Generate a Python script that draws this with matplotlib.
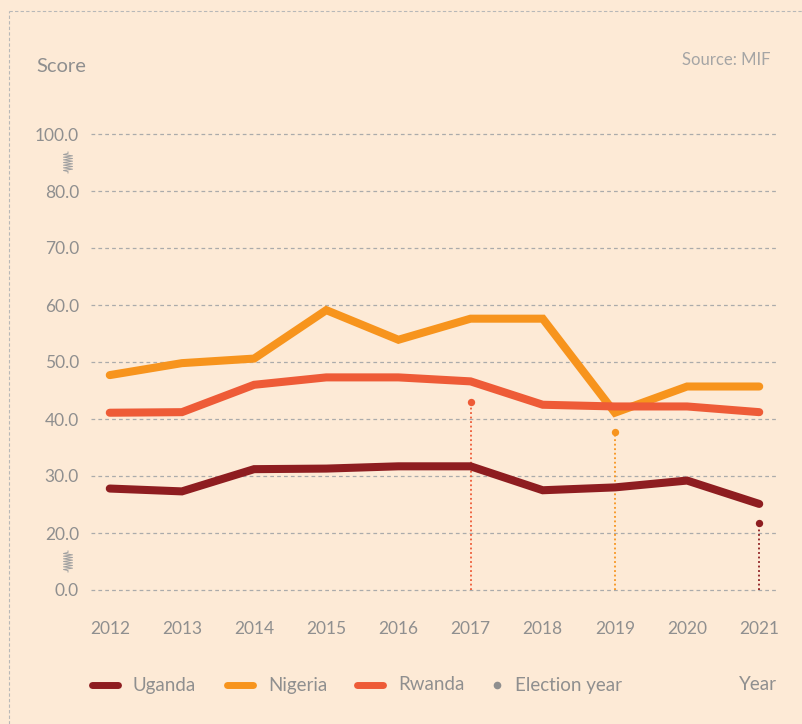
import matplotlib
matplotlib.use("Agg")
import matplotlib.pyplot as plt
from matplotlib.lines import Line2D
import numpy as np

# data
years = [2012, 2013, 2014, 2015, 2016, 2017, 2018, 2019, 2020, 2021]
uganda = [27.8, 27.3, 31.2, 31.3, 31.7, 31.7, 27.5, 28.0, 29.2, 25.1]
nigeria = [47.7, 49.8, 50.6, 59.1, 53.9, 57.6, 57.6, 41.1, 45.7, 45.7]
rwanda = [41.1, 41.2, 46.0, 47.3, 47.3, 46.6, 42.5, 42.2, 42.2, 41.2]

election_years = [2017, 2019, 2021]
election_country = ["Rwanda", "Nigeria", "Uganda"]
election_marker = [42.9, 37.8, 21.8]

tick_values = [0, 20, 30, 40, 50, 60, 70, 80, 100]

colors = {"Uganda": "#8E1D20", "Nigeria": "#F7941D", "Rwanda": "#EE5B37"}
bg = "#FDEAD6"
grey = "#8F8F8F"
grid_col = "#ABABAB"

plt.rcParams["font.family"] = ["Lato", "DejaVu Sans"]


# broken axis: 0 sits one step below 20, 100 one step above 80
def pos(v):
    if v < 20:
        return 10 + v / 20 * 10
    if v > 80:
        return 80 + (v - 80) / 20 * 10
    return v


W, H = 803, 724
fig = plt.figure(figsize=(W / 100, H / 100), dpi=100)
fig.patch.set_facecolor(bg)

ax = fig.add_axes([91 / W, 1 - 601.4 / H, (778 - 91) / W, (601.4 - 122.6) / H])
ax.set_facecolor(bg)
for s in ax.spines.values():
    s.set_visible(False)

ax.set_xlim(2011.74, 2021.26)
ax.set_ylim(8, 92)

ticks = [pos(v) for v in tick_values]
ax.set_yticks(ticks)
ax.set_yticklabels([f"{v:.1f}" for v in tick_values])
ax.set_xticks(years)
ax.set_xticklabels([str(y) for y in years])
ax.tick_params(axis="both", length=0, labelsize=12.5, labelcolor=grey)
ax.tick_params(axis="y", pad=8.6)
ax.tick_params(axis="x", pad=14)

for t in ticks:
    ax.axhline(t, color=grid_col, lw=0.9, ls=(0, (3, 2.5)), zorder=1)

series = {"Uganda": uganda, "Nigeria": nigeria, "Rwanda": rwanda}
for name in ["Uganda", "Nigeria", "Rwanda"]:
    ax.plot(years, [pos(v) for v in series[name]], color=colors[name], lw=5.8,
            solid_capstyle="round", solid_joinstyle="miter", zorder=3)

# election stems
for yr, c, m in zip(election_years, election_country, election_marker):
    ax.vlines(yr, pos(0), pos(m), colors=colors[c], lw=1.3, linestyles=(0, (1, 1.5)), zorder=2)
    ax.scatter([yr], [pos(m)], s=28, color=colors[c], zorder=4, linewidths=0)

# axis-break springs
for v in [90, 10]:
    yc = ax.transData.transform((2012, (v + (20 if v == 10 else 80)) / 2))[1]
    n = 13
    xs = [68, 68] + [68 + (4.5 if i % 2 else -4.5) for i in range(n)] + [68, 68]
    ys = [yc + 10.5, yc + 9] + [yc + 8 - i * 16 / (n - 1) for i in range(n)] + [yc - 9, yc - 10.5]
    fig.add_artist(Line2D(np.array(xs) / W, np.array(ys) / H, transform=fig.transFigure,
                          color="#A0A0A0", lw=0.7))

# outer dashed frame
fig.add_artist(Line2D([8.5 / W, 1.0], [1 - 11 / H, 1 - 11 / H], transform=fig.transFigure,
                      color="#B8B8B8", lw=0.8, ls=(0, (3, 2))))
fig.add_artist(Line2D([8.5 / W, 8.5 / W], [0, 1 - 11 / H], transform=fig.transFigure,
                      color="#B8B8B8", lw=0.8, ls=(0, (3, 2))))

fig.text(36 / W, 1 - 66 / H, "Score", fontsize=14.5, color=grey, va="center", ha="left")
fig.text(771 / W, 1 - 60 / H, "Source: MIF", fontsize=12, color="#A5A5A5", va="center", ha="right")
fig.text(777 / W, 1 - 685 / H, "Year", fontsize=13.5, color=grey, va="center", ha="right")

# legend, laid out like the reference
names = ["Uganda", "Nigeria", "Rwanda"]
handle_x = [92, 227, 357]
ly = 1 - 685 / H
for n, hx in zip(names, handle_x):
    fig.add_artist(Line2D([hx / W, (hx + 26) / W], [ly, ly], transform=fig.transFigure,
                          color=colors[n], lw=5, solid_capstyle="round"))
    fig.text((hx + 41) / W, ly, n, fontsize=13.5, color=grey, va="center", ha="left")
fig.add_artist(Line2D([497 / W], [ly], transform=fig.transFigure, color=grey, marker="o",
                      ls="none", markersize=5.5, markeredgewidth=0))
fig.text(515 / W, ly, "Election year", fontsize=13.5, color=grey, va="center", ha="left")

fig.savefig("out.png", dpi=100, facecolor=bg)
